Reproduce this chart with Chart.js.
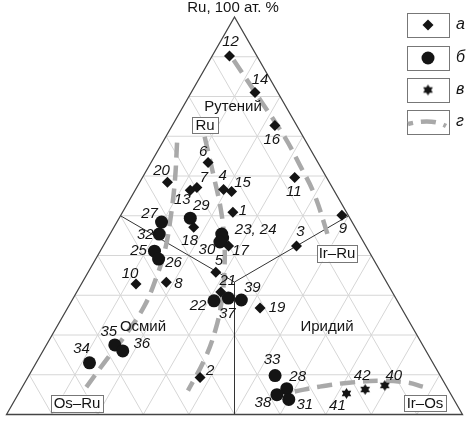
<!DOCTYPE html>
<html>
<head>
<meta charset="utf-8">
<script src="https://cdn.jsdelivr.net/npm/chart.js@4.4.1/dist/chart.umd.min.js"></script>
<style>
  html, body { margin: 0; padding: 0; background: #fff; }
  #chart { display: block; }
</style>
</head>
<body>
<canvas id="chart" width="469" height="421"></canvas>
<script>
// Composition, at. %: [sample no., Ru, Ir]; Os = 100 - Ru - Ir
const diamondPoints = [
  [12, 90.2, 3.8], [14, 81.0, 14.0], [16, 72.7, 22.5], [6, 63.4, 12.5],
  [20, 58.4, 6.1], [7, 57.1, 13.2], [13, 56.4, 12.1], [4, 56.6, 19.3],
  [15, 56.1, 21.3], [1, 50.9, 24.2], [18, 47.1, 17.5], [11, 59.6, 33.4],
  [9, 50.1, 48.5], [3, 42.4, 42.4], [17, 42.4, 27.5], [5, 35.8, 28.0],
  [21, 30.8, 31.6], [19, 26.8, 42.2], [10, 32.8, 12.0], [8, 33.3, 18.4],
  [2, 9.3, 37.8]
];
const circlePoints = [
  [29, 49.4, 15.6], [27, 48.4, 9.8], [32, 45.4, 10.8], [25, 41.1, 11.9],
  [26, 39.1, 13.8], [23, 45.4, 24.5], [24, 44.4, 25.2], [30, 43.4, 25.1],
  [22, 28.6, 31.2], [37, 29.3, 34.0], [39, 28.8, 37.1], [35, 17.5, 15.0],
  [36, 16.0, 17.5], [34, 13.0, 11.7], [33, 9.8, 54.0], [28, 6.5, 58.2],
  [38, 5.0, 56.8], [31, 3.8, 60.0]
];
const starPoints = [
  [41, 5.3, 71.9], [42, 6.3, 75.5], [40, 7.3, 79.3]
];

// Trend lines (г): [Ru, Ir]
const trendRight = [[89.2, 5.2], [79.2, 16.0], [69.7, 26.2], [62.9, 32.8], [55.4, 39.8], [44.1, 48.7]];
const trendMiddle = [[69.9, 8.5], [59.9, 15.5], [51.6, 21.2], [44.1, 25.7], [36.6, 29.5], [29.1, 32.7], [21.6, 35.1], [14.0, 36.5], [6.0, 36.8]];
const trendLeft = [[68.4, 3.2], [59.1, 7.4], [50.4, 10.9], [41.6, 14.0], [34.6, 15.6], [27.1, 16.6], [19.5, 16.0], [13.0, 14.9], [6.5, 14.0]];
const trendIrOs = [[5.8, 60.3], [7.0, 65.1], [8.0, 71.1], [8.5, 78.4], [8.0, 84.1], [7.0, 87.8]];

const gridSteps = [10, 20, 30, 40, 50, 60, 70, 80, 90];

// where each number sits relative to its marker, px
const labelOffsets = {
  12: [1, -14], 14: [5, -13], 16: [-3, 14], 6: [-5, -11], 20: [-6, -12],
  7: [7, -10], 13: [-8, 10], 4: [-1, -14], 15: [11, -9], 1: [10, -1],
  29: [11, -12], 18: [-4, 14], 27: [-12, -8], 32: [-14, 1], 25: [-16, 0],
  26: [15, 4], 11: [-1, 14], 9: [1, 13], 3: [4, -14], 24: [33, -8, "23, 24"],
  30: [-13, 8], 17: [12, 5], 5: [3, -11], 21: [7, -11], 22: [-16, 5],
  37: [-1, 16], 39: [11, -12], 19: [17, 0], 10: [-6, -10], 8: [12, 2],
  35: [-6, -13], 36: [19, -7], 34: [-8, -14], 2: [10, -7], 33: [-3, -16],
  28: [11, -12], 38: [-14, 8], 31: [16, 5], 41: [-9, 12], 42: [-3, -14],
  40: [9, -10]
};

const INK = "#141414";
const DASH = "#a9a9a9";

const toXY = ([ru, ir]) => ({ x: ir + ru / 2, y: ru });

function makeStar(r, color) {
  const s = Math.ceil(r * 2 + 2);
  const c = document.createElement("canvas");
  c.width = s;
  c.height = s;
  const g = c.getContext("2d");
  g.fillStyle = color;
  g.beginPath();
  for (let k = 0; k < 12; k++) {
    const a = -Math.PI / 2 + (k * Math.PI) / 6;
    const rr = k % 2 === 0 ? r : r * 0.6;
    const px = s / 2 + Math.cos(a) * rr;
    const py = s / 2 + Math.sin(a) * rr;
    if (k === 0) g.moveTo(px, py);
    else g.lineTo(px, py);
  }
  g.closePath();
  g.fill();
  return c;
}
const starImg = makeStar(5.5, INK);

function pointSet(rows, style, radius) {
  return {
    type: "scatter",
    data: rows.map((r) => toXY([r[1], r[2]])),
    ids: rows.map((r) => r[0]),
    pointStyle: style,
    pointRadius: radius,
    pointHoverRadius: radius,
    backgroundColor: INK,
    borderColor: INK,
    borderWidth: 0,
    clip: false,
  };
}

function trendSet(rows) {
  return {
    type: "line",
    data: rows.map(toXY),
    showLine: true,
    pointRadius: 0,
    borderColor: DASH,
    borderWidth: 4.5,
    borderDash: [15, 8],
    borderCapStyle: "butt",
    tension: 0.4,
    fill: false,
    clip: false,
  };
}

function strokeLine(ctx, a, b) {
  ctx.beginPath();
  ctx.moveTo(a[0], a[1]);
  ctx.lineTo(b[0], b[1]);
  ctx.stroke();
}

function boxedText(ctx, text, cx, cy, w, h) {
  ctx.fillStyle = "#fff";
  ctx.fillRect(cx - w / 2, cy - h / 2, w, h);
  ctx.strokeStyle = "#777";
  ctx.lineWidth = 1;
  ctx.strokeRect(Math.round(cx - w / 2) + 0.5, Math.round(cy - h / 2) + 0.5, w, h);
  ctx.fillStyle = INK;
  ctx.fillText(text, cx, cy + 1);
}

const ternaryPlugin = {
  id: "ternary",
  beforeDatasetsDraw(chart) {
    const { ctx, scales: { x, y } } = chart;
    const px = (ru, ir) => [x.getPixelForValue(ir + ru / 2), y.getPixelForValue(ru)];
    ctx.save();

    // 10 % grid in the three directions
    ctx.strokeStyle = "#d6d6d6";
    ctx.lineWidth = 1;
    gridSteps.forEach((v) => {
      strokeLine(ctx, px(v, 0), px(v, 100 - v));
      strokeLine(ctx, px(0, v), px(100 - v, v));
      strokeLine(ctx, px(0, 100 - v), px(100 - v, 0));
    });

    // fields of Ru, Os and Ir alloys
    const c = px(100 / 3, 100 / 3);
    ctx.strokeStyle = "#333";
    strokeLine(ctx, c, px(50, 0));
    strokeLine(ctx, c, px(50, 50));
    strokeLine(ctx, c, px(0, 50));

    // outline
    ctx.strokeStyle = "#444";
    ctx.lineWidth = 1.3;
    ctx.beginPath();
    const a = px(0, 0), b = px(0, 100), t = px(100, 0);
    ctx.moveTo(a[0], a[1]);
    ctx.lineTo(b[0], b[1]);
    ctx.lineTo(t[0], t[1]);
    ctx.closePath();
    ctx.stroke();
    ctx.restore();
  },
  afterDatasetsDraw(chart) {
    const { ctx } = chart;
    ctx.save();
    ctx.textAlign = "center";
    ctx.textBaseline = "middle";

    // sample numbers
    ctx.fillStyle = INK;
    ctx.font = "italic 15px 'Liberation Sans', Arial, sans-serif";
    chart.data.datasets.forEach((ds, i) => {
      if (!ds.ids) return;
      chart.getDatasetMeta(i).data.forEach((el, j) => {
        const off = labelOffsets[ds.ids[j]];
        if (!off) return;
        ctx.fillText(off[2] || String(ds.ids[j]), el.x + off[0], el.y + off[1]);
      });
    });

    // titles and field names
    ctx.font = "15px 'Liberation Sans', Arial, sans-serif";
    ctx.fillText("Ru, 100 ат. %", 233, 8);
    ctx.fillText("Рутений", 233, 107);
    ctx.fillText("Осмий", 143, 327);
    ctx.fillText("Иридий", 327, 327);
    boxedText(ctx, "Ru", 205, 125, 26, 16);
    boxedText(ctx, "Ir–Ru", 337, 253, 40, 17);
    boxedText(ctx, "Os–Ru", 77, 403, 52, 17);
    boxedText(ctx, "Ir–Os", 425, 403, 42, 16);

    // legend
    const lx = 407, lw = 42, lh = 24;
    const rows = [13, 46, 78, 110];
    const letters = ["а", "б", "в", "г"];
    ctx.strokeStyle = "#777";
    ctx.lineWidth = 1;
    rows.forEach((top, k) => {
      ctx.strokeRect(lx + 0.5, top + 0.5, lw, lh);
      ctx.fillStyle = INK;
      ctx.font = "italic 16px 'Liberation Sans', Arial, sans-serif";
      ctx.textAlign = "left";
      ctx.fillText(letters[k], 456, top + lh / 2);
    });
    const cx = lx + lw / 2;
    ctx.fillStyle = INK;
    // diamond
    ctx.beginPath();
    ctx.moveTo(cx, rows[0] + 12 - 5.5);
    ctx.lineTo(cx + 5.5, rows[0] + 12);
    ctx.lineTo(cx, rows[0] + 12 + 5.5);
    ctx.lineTo(cx - 5.5, rows[0] + 12);
    ctx.closePath();
    ctx.fill();
    // circle
    ctx.beginPath();
    ctx.arc(cx, rows[1] + 12, 6.5, 0, Math.PI * 2);
    ctx.fill();
    // star
    ctx.drawImage(starImg, cx - starImg.width / 2, rows[2] + 12 - starImg.height / 2);
    // dashed line sample
    ctx.strokeStyle = DASH;
    ctx.lineWidth = 4.5;
    ctx.setLineDash([15, 8]);
    ctx.lineDashOffset = 10;
    ctx.beginPath();
    ctx.moveTo(lx + 1, rows[3] + 14);
    ctx.quadraticCurveTo(cx + 4, rows[3] + 8, lx + lw - 3, rows[3] + 16);
    ctx.stroke();
    ctx.restore();
  },
};

new Chart(document.getElementById("chart"), {
  data: {
    datasets: [
      pointSet(diamondPoints, "rectRot", 5.5),
      pointSet(circlePoints, "circle", 6.5),
      pointSet(starPoints, starImg, 5.5),
      trendSet(trendRight),
      trendSet(trendMiddle),
      trendSet(trendLeft),
      trendSet(trendIrOs),
    ],
  },
  options: {
    responsive: false,
    animation: false,
    layout: { padding: { left: 3, right: 4, top: 17, bottom: 5 } },
    scales: {
      x: { type: "linear", min: 0, max: 100, display: false },
      y: { type: "linear", min: 0, max: 100, display: false },
    },
    plugins: {
      legend: { display: false },
      tooltip: { enabled: false },
    },
  },
  plugins: [ternaryPlugin],
});
</script>
</body>
</html>
